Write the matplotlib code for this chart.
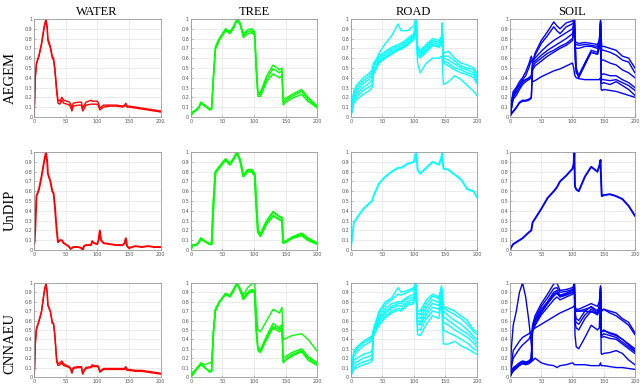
import matplotlib
matplotlib.use('Agg')
import matplotlib.pyplot as plt

materials = ['WATER', 'TREE', 'ROAD', 'SOIL']
methods = ['AEGEM', 'UnDIP', 'CNNAEU']
colors = {'WATER': '#ff0000', 'TREE': '#00ff00', 'ROAD': '#00ffff', 'SOIL': '#0000ff'}

# spectral band positions for each material
water_bands = [0, 1, 2, 4, 8, 12, 16, 19, 21, 22, 26, 29, 31, 33, 36, 38, 41, 44, 47, 52, 56, 58, 60, 62,
               70, 75, 77, 79, 82, 90, 92, 95, 100, 102, 104, 106, 110, 120, 130, 140, 143, 145, 147, 150,
               160, 170, 180, 190, 200]
tree_bands = [0, 3, 8, 13, 16, 22, 30, 33, 36, 39, 45, 55, 62, 68, 73, 78, 83, 90, 96, 101, 103, 106, 110,
              120, 130, 140, 144, 146, 150, 160, 175, 185, 200]
road_bands = [0, 2, 5, 10, 20, 30, 34, 36, 45, 55, 65, 75, 80, 90, 100, 103, 104, 106, 110, 120, 130, 140,
              144, 145, 147, 155, 165, 175, 185, 195, 200]
soil_bands = [0, 2, 5, 10, 15, 20, 25, 30, 34, 36, 40, 50, 60, 70, 75, 80, 90, 100, 102, 103, 104, 106, 110,
              120, 130, 140, 143, 145, 146, 147, 150, 160, 170, 180, 190, 200]

# AEGEM
water_aegem = [
    [0.0, 0.15, 0.4, 0.55, 0.63, 0.75, 0.92, 1.0, 0.92, 0.8, 0.72, 0.62, 0.6, 0.5, 0.28, 0.17, 0.16, 0.2, 0.17,
     0.16, 0.15, 0.13, 0.09, 0.14, 0.15, 0.15, 0.09, 0.11, 0.15, 0.17, 0.16, 0.16, 0.16, 0.14, 0.09, 0.1, 0.12,
     0.12, 0.12, 0.11, 0.12, 0.14, 0.11, 0.11, 0.1, 0.09, 0.08, 0.07, 0.06],
    [0.0, 0.12, 0.38, 0.54, 0.62, 0.74, 0.9, 0.99, 0.9, 0.78, 0.7, 0.6, 0.58, 0.48, 0.25, 0.14, 0.13, 0.17, 0.14,
     0.13, 0.12, 0.1, 0.06, 0.11, 0.12, 0.12, 0.06, 0.08, 0.12, 0.13, 0.13, 0.13, 0.13, 0.11, 0.07, 0.08, 0.1,
     0.11, 0.11, 0.1, 0.11, 0.12, 0.1, 0.1, 0.09, 0.08, 0.07, 0.06, 0.05],
]
tree_aegem = [
    [0.0, 0.05, 0.07, 0.1, 0.15, 0.12, 0.08, 0.09, 0.45, 0.72, 0.8, 0.9, 0.87, 0.93, 1.0, 0.96, 0.85, 0.89, 0.9,
     0.87, 0.6, 0.25, 0.25, 0.42, 0.53, 0.48, 0.5, 0.18, 0.19, 0.23, 0.28, 0.2, 0.11],
    [0.0, 0.05, 0.07, 0.1, 0.15, 0.12, 0.08, 0.08, 0.42, 0.7, 0.79, 0.89, 0.86, 0.92, 0.99, 0.95, 0.83, 0.87, 0.88,
     0.85, 0.55, 0.23, 0.23, 0.39, 0.49, 0.45, 0.47, 0.15, 0.17, 0.21, 0.26, 0.18, 0.1],
    [0.0, 0.04, 0.06, 0.09, 0.14, 0.11, 0.07, 0.08, 0.4, 0.69, 0.78, 0.88, 0.85, 0.91, 0.99, 0.94, 0.81, 0.85, 0.86,
     0.83, 0.5, 0.21, 0.21, 0.36, 0.44, 0.4, 0.42, 0.12, 0.15, 0.19, 0.23, 0.16, 0.09],
]
road_aegem = [
    [0.0, 0.15, 0.27, 0.33, 0.4, 0.45, 0.48, 0.52, 0.65, 0.75, 0.83, 0.95, 0.88, 0.88, 0.93, 1.0, 0.85, 0.55, 0.45,
     0.55, 0.6, 0.6, 0.62, 0.6, 0.33, 0.36, 0.42, 0.38, 0.32, 0.26, 0.22],
    [0.0, 0.12, 0.25, 0.3, 0.37, 0.42, 0.45, 0.55, 0.62, 0.67, 0.71, 0.74, 0.75, 0.8, 0.85, 0.95, 1.0, 0.72, 0.68,
     0.74, 0.8, 0.78, 0.82, 0.96, 0.65, 0.67, 0.6, 0.55, 0.53, 0.5, 0.45],
    [0.0, 0.1, 0.22, 0.27, 0.34, 0.39, 0.42, 0.52, 0.6, 0.65, 0.69, 0.72, 0.73, 0.78, 0.83, 0.93, 0.98, 0.7, 0.66,
     0.72, 0.78, 0.76, 0.8, 0.95, 0.62, 0.62, 0.57, 0.52, 0.5, 0.48, 0.42],
    [0.0, 0.08, 0.2, 0.24, 0.3, 0.35, 0.38, 0.48, 0.58, 0.63, 0.67, 0.7, 0.71, 0.76, 0.81, 0.9, 0.97, 0.67, 0.64,
     0.7, 0.76, 0.74, 0.78, 0.94, 0.6, 0.58, 0.54, 0.5, 0.48, 0.45, 0.4],
    [0.0, 0.06, 0.17, 0.21, 0.27, 0.31, 0.33, 0.45, 0.56, 0.61, 0.65, 0.69, 0.7, 0.74, 0.8, 0.88, 0.96, 0.65, 0.62,
     0.68, 0.74, 0.72, 0.76, 0.93, 0.57, 0.55, 0.5, 0.48, 0.45, 0.43, 0.37],
    [0.0, 0.05, 0.14, 0.18, 0.23, 0.27, 0.3, 0.43, 0.55, 0.6, 0.64, 0.68, 0.69, 0.73, 0.79, 0.87, 0.95, 0.63, 0.6,
     0.66, 0.73, 0.71, 0.74, 0.92, 0.55, 0.52, 0.48, 0.45, 0.43, 0.4, 0.34],
]
soil_aegem = [
    [0.0, 0.1, 0.2, 0.25, 0.3, 0.35, 0.38, 0.4, 0.42, 0.55, 0.65, 0.78, 0.87, 0.97, 0.93, 0.9, 0.96, 0.98, 0.99,
     1.0, 0.85, 0.5, 0.42, 0.55, 0.68, 0.66, 0.75, 1.0, 0.8, 0.72, 0.72, 0.7, 0.68, 0.62, 0.6, 0.5],
    [0.0, 0.08, 0.18, 0.22, 0.28, 0.33, 0.36, 0.38, 0.4, 0.53, 0.63, 0.75, 0.83, 0.92, 0.88, 0.85, 0.92, 0.95, 0.97,
     1.0, 0.8, 0.47, 0.4, 0.53, 0.66, 0.64, 0.72, 0.98, 0.75, 0.68, 0.68, 0.66, 0.63, 0.58, 0.56, 0.45],
    [0.0, 0.15, 0.26, 0.3, 0.36, 0.4, 0.46, 0.54, 0.62, 0.58, 0.6, 0.67, 0.73, 0.78, 0.8, 0.82, 0.86, 0.9, 0.95,
     1.0, 0.78, 0.76, 0.75, 0.76, 0.75, 0.74, 0.78, 0.97, 0.6, 0.58, 0.58, 0.55, 0.53, 0.48, 0.45, 0.4],
    [0.0, 0.12, 0.24, 0.28, 0.33, 0.38, 0.42, 0.5, 0.58, 0.55, 0.57, 0.63, 0.68, 0.72, 0.74, 0.76, 0.8, 0.85, 0.92,
     1.0, 0.75, 0.74, 0.73, 0.74, 0.73, 0.72, 0.76, 0.96, 0.45, 0.43, 0.44, 0.42, 0.42, 0.38, 0.35, 0.3],
    [0.0, 0.04, 0.06, 0.1, 0.15, 0.17, 0.17, 0.18, 0.2, 0.5, 0.55, 0.6, 0.65, 0.68, 0.7, 0.72, 0.75, 0.8, 0.88,
     1.0, 0.72, 0.7, 0.7, 0.72, 0.72, 0.7, 0.74, 0.95, 0.4, 0.38, 0.38, 0.37, 0.38, 0.35, 0.32, 0.27],
    [0.0, 0.03, 0.05, 0.09, 0.14, 0.16, 0.16, 0.17, 0.19, 0.48, 0.52, 0.57, 0.62, 0.66, 0.68, 0.7, 0.73, 0.78, 0.86,
     0.98, 0.6, 0.45, 0.42, 0.55, 0.66, 0.64, 0.7, 0.93, 0.35, 0.34, 0.35, 0.33, 0.36, 0.32, 0.28, 0.22],
    [0.0, 0.08, 0.2, 0.28, 0.33, 0.37, 0.38, 0.39, 0.4, 0.36, 0.37, 0.41, 0.44, 0.47, 0.48, 0.49, 0.52, 0.55, 0.5,
     0.45, 0.42, 0.4, 0.39, 0.38, 0.38, 0.38, 0.38, 0.4, 0.28, 0.27, 0.28, 0.27, 0.26, 0.24, 0.22, 0.2],
]

# UnDIP
water_undip = [
    [0.05, 0.08, 0.2, 0.55, 0.62, 0.75, 0.9, 1.0, 0.9, 0.78, 0.7, 0.6, 0.58, 0.45, 0.2, 0.08, 0.1, 0.1, 0.07,
     0.05, 0.03, 0.01, 0.02, 0.03, 0.03, 0.02, 0.0, 0.04, 0.05, 0.05, 0.09, 0.07, 0.06, 0.1, 0.2, 0.1, 0.07,
     0.06, 0.05, 0.05, 0.07, 0.12, 0.04, 0.02, 0.04, 0.03, 0.04, 0.03, 0.03],
]
tree_undip = [
    [0.0, 0.05, 0.05, 0.08, 0.12, 0.09, 0.06, 0.06, 0.5, 0.8, 0.85, 0.93, 0.88, 0.94, 1.0, 0.92, 0.76, 0.82, 0.82,
     0.78, 0.55, 0.2, 0.16, 0.3, 0.39, 0.34, 0.33, 0.08, 0.09, 0.13, 0.17, 0.12, 0.07],
    [0.0, 0.05, 0.05, 0.08, 0.12, 0.09, 0.06, 0.06, 0.48, 0.79, 0.84, 0.92, 0.87, 0.93, 0.99, 0.91, 0.75, 0.8, 0.8,
     0.76, 0.5, 0.18, 0.14, 0.27, 0.35, 0.31, 0.3, 0.07, 0.08, 0.12, 0.15, 0.1, 0.06],
]
road_undip = [
    [0.0, 0.12, 0.28, 0.33, 0.42, 0.48, 0.5, 0.55, 0.68, 0.75, 0.8, 0.84, 0.84, 0.88, 0.9, 0.98, 1.0, 0.82, 0.78,
     0.84, 0.9, 0.87, 0.95, 1.0, 0.83, 0.82, 0.77, 0.72, 0.62, 0.6, 0.54],
]
soil_undip = [
    [0.0, 0.03, 0.06, 0.08, 0.1, 0.12, 0.15, 0.18, 0.2, 0.28, 0.32, 0.42, 0.53, 0.6, 0.64, 0.7, 0.76, 0.83, 0.88,
     1.0, 0.65, 0.62, 0.6, 0.75, 0.85, 0.8, 0.86, 0.92, 0.68, 0.55, 0.56, 0.57, 0.55, 0.52, 0.45, 0.35],
]

# CNNAEU
water_cnnaeu = [
    [0.0, 0.1, 0.35, 0.52, 0.6, 0.7, 0.9, 1.0, 0.9, 0.77, 0.7, 0.58, 0.57, 0.45, 0.18, 0.14, 0.15, 0.17, 0.14,
     0.12, 0.11, 0.09, 0.05, 0.1, 0.11, 0.11, 0.04, 0.07, 0.1, 0.11, 0.13, 0.12, 0.12, 0.11, 0.06, 0.07, 0.09,
     0.09, 0.09, 0.09, 0.09, 0.11, 0.08, 0.08, 0.07, 0.07, 0.06, 0.05, 0.04],
    [0.0, 0.08, 0.33, 0.5, 0.59, 0.69, 0.89, 0.99, 0.89, 0.76, 0.69, 0.57, 0.56, 0.44, 0.16, 0.12, 0.13, 0.15, 0.12,
     0.11, 0.1, 0.08, 0.04, 0.09, 0.1, 0.1, 0.03, 0.06, 0.09, 0.1, 0.11, 0.11, 0.11, 0.1, 0.05, 0.06, 0.08,
     0.08, 0.08, 0.08, 0.08, 0.1, 0.07, 0.07, 0.06, 0.06, 0.05, 0.04, 0.03],
]
tree_cnnaeu = [
    [0.0, 0.05, 0.08, 0.12, 0.15, 0.13, 0.15, 0.16, 0.5, 0.72, 0.8, 0.88, 0.87, 0.94, 1.0, 0.94, 0.87, 0.95, 0.99,
     1.0, 0.75, 0.5, 0.48, 0.6, 0.72, 0.68, 0.74, 0.4, 0.41, 0.44, 0.46, 0.4, 0.27],
    [0.0, 0.03, 0.08, 0.12, 0.14, 0.1, 0.06, 0.07, 0.5, 0.72, 0.8, 0.89, 0.86, 0.93, 1.0, 0.93, 0.84, 0.9, 0.93,
     0.92, 0.6, 0.32, 0.29, 0.44, 0.57, 0.52, 0.56, 0.2, 0.22, 0.26, 0.3, 0.22, 0.15],
    [0.0, 0.02, 0.07, 0.11, 0.13, 0.1, 0.06, 0.06, 0.49, 0.71, 0.79, 0.88, 0.86, 0.92, 0.99, 0.92, 0.83, 0.89, 0.92,
     0.9, 0.55, 0.3, 0.27, 0.42, 0.54, 0.5, 0.53, 0.16, 0.19, 0.24, 0.28, 0.2, 0.13],
    [0.0, 0.02, 0.07, 0.11, 0.13, 0.1, 0.05, 0.06, 0.48, 0.7, 0.79, 0.88, 0.85, 0.92, 0.99, 0.92, 0.82, 0.88, 0.91,
     0.89, 0.5, 0.28, 0.26, 0.4, 0.52, 0.48, 0.5, 0.15, 0.18, 0.22, 0.27, 0.18, 0.12],
]
road_cnnaeu = [
    [0.0, 0.15, 0.28, 0.32, 0.38, 0.42, 0.44, 0.5, 0.7, 0.8, 0.84, 0.95, 0.9, 0.92, 0.95, 1.0, 0.85, 0.7, 0.7,
     0.82, 0.88, 0.85, 0.97, 0.9, 0.75, 0.73, 0.7, 0.65, 0.6, 0.5, 0.48],
    [0.0, 0.13, 0.26, 0.3, 0.36, 0.4, 0.43, 0.5, 0.68, 0.77, 0.82, 0.88, 0.87, 0.9, 0.93, 1.0, 0.95, 0.68, 0.66,
     0.78, 0.86, 0.83, 0.95, 0.9, 0.73, 0.7, 0.66, 0.62, 0.56, 0.48, 0.45],
    [0.0, 0.1, 0.22, 0.27, 0.33, 0.37, 0.4, 0.48, 0.65, 0.73, 0.78, 0.8, 0.8, 0.85, 0.88, 0.98, 0.93, 0.63, 0.62,
     0.74, 0.82, 0.79, 0.93, 0.85, 0.7, 0.65, 0.6, 0.56, 0.5, 0.43, 0.4],
    [0.0, 0.08, 0.18, 0.2, 0.24, 0.26, 0.28, 0.46, 0.62, 0.7, 0.75, 0.78, 0.78, 0.83, 0.85, 0.97, 0.9, 0.6, 0.58,
     0.7, 0.78, 0.76, 0.9, 0.8, 0.64, 0.6, 0.55, 0.5, 0.46, 0.4, 0.36],
    [0.0, 0.06, 0.14, 0.16, 0.2, 0.22, 0.24, 0.45, 0.6, 0.68, 0.73, 0.76, 0.75, 0.8, 0.83, 0.96, 0.88, 0.57, 0.55,
     0.66, 0.74, 0.72, 0.87, 0.75, 0.58, 0.55, 0.5, 0.46, 0.42, 0.36, 0.32],
    [0.0, 0.05, 0.1, 0.13, 0.16, 0.18, 0.2, 0.44, 0.57, 0.65, 0.7, 0.73, 0.72, 0.78, 0.8, 0.95, 0.85, 0.5, 0.5,
     0.62, 0.7, 0.68, 0.85, 0.7, 0.5, 0.47, 0.44, 0.4, 0.36, 0.3, 0.28],
    [0.0, 0.04, 0.08, 0.1, 0.13, 0.15, 0.17, 0.43, 0.55, 0.63, 0.68, 0.71, 0.7, 0.76, 0.78, 0.94, 0.82, 0.45, 0.44,
     0.56, 0.65, 0.62, 0.82, 0.65, 0.35, 0.35, 0.38, 0.33, 0.3, 0.26, 0.24],
]
soil_cnnaeu = [
    [0.0, 0.05, 0.1, 0.12, 0.15, 0.17, 0.16, 0.17, 0.2, 0.55, 0.65, 0.78, 0.88, 0.99, 1.0, 0.92, 0.93, 0.95, 0.97,
     1.0, 0.75, 0.72, 0.72, 0.75, 0.78, 0.75, 0.8, 0.97, 0.72, 0.7, 0.72, 0.68, 0.65, 0.6, 0.55, 0.45],
    [0.0, 0.04, 0.08, 0.11, 0.14, 0.16, 0.15, 0.16, 0.18, 0.53, 0.62, 0.75, 0.84, 0.94, 0.95, 0.9, 0.91, 0.93, 0.95,
     1.0, 0.7, 0.62, 0.6, 0.7, 0.75, 0.7, 0.75, 0.95, 0.5, 0.48, 0.49, 0.47, 0.45, 0.4, 0.35, 0.3],
    [0.0, 0.03, 0.07, 0.1, 0.13, 0.15, 0.14, 0.15, 0.17, 0.52, 0.6, 0.72, 0.8, 0.9, 0.92, 0.87, 0.89, 0.92, 0.94,
     1.0, 0.62, 0.58, 0.56, 0.66, 0.72, 0.68, 0.72, 0.94, 0.46, 0.44, 0.46, 0.44, 0.42, 0.37, 0.32, 0.27],
    [0.0, 0.03, 0.06, 0.09, 0.12, 0.14, 0.13, 0.14, 0.16, 0.5, 0.58, 0.7, 0.78, 0.86, 0.89, 0.85, 0.87, 0.9, 0.93,
     0.99, 0.58, 0.52, 0.5, 0.62, 0.7, 0.66, 0.7, 0.93, 0.43, 0.42, 0.43, 0.41, 0.4, 0.35, 0.3, 0.25],
    [0.0, 0.05, 0.09, 0.12, 0.15, 0.16, 0.15, 0.16, 0.18, 0.48, 0.55, 0.66, 0.74, 0.82, 0.85, 0.82, 0.85, 0.88, 0.9,
     0.98, 0.45, 0.32, 0.3, 0.42, 0.55, 0.5, 0.52, 0.9, 0.25, 0.24, 0.25, 0.26, 0.28, 0.25, 0.18, 0.13],
    [0.0, 0.12, 0.28, 0.33, 0.38, 0.42, 0.44, 0.46, 0.48, 0.5, 0.52, 0.56, 0.6, 0.64, 0.66, 0.68, 0.71, 0.74, 0.75,
     0.76, 0.72, 0.7, 0.7, 0.7, 0.69, 0.68, 0.7, 0.72, 0.72, 0.71, 0.72, 0.7, 0.68, 0.62, 0.58, 0.47],
    [0.0, 0.1, 0.2, 0.25, 0.3, 0.34, 0.37, 0.4, 0.45, 0.5, 0.55, 0.68, 0.78, 0.88, 0.9, 0.86, 0.88, 0.9, 0.93,
     1.0, 0.68, 0.7, 0.7, 0.72, 0.74, 0.7, 0.74, 0.96, 0.5, 0.48, 0.5, 0.46, 0.44, 0.4, 0.34, 0.28],
    [0.0, 0.3, 0.55, 0.7, 0.9, 1.0, 0.85, 0.6, 0.35, 0.17, 0.2, 0.15, 0.13, 0.12, 0.1, 0.12, 0.13, 0.15, 0.14,
     0.13, 0.13, 0.13, 0.13, 0.13, 0.12, 0.12, 0.12, 0.15, 0.12, 0.12, 0.12, 0.11, 0.1, 0.1, 0.09, 0.08],
]

bands = {'WATER': water_bands, 'TREE': tree_bands, 'ROAD': road_bands, 'SOIL': soil_bands}
curves = {
    'AEGEM': {'WATER': water_aegem, 'TREE': tree_aegem, 'ROAD': road_aegem, 'SOIL': soil_aegem},
    'UnDIP': {'WATER': water_undip, 'TREE': tree_undip, 'ROAD': road_undip, 'SOIL': soil_undip},
    'CNNAEU': {'WATER': water_cnnaeu, 'TREE': tree_cnnaeu, 'ROAD': road_cnnaeu, 'SOIL': soil_cnnaeu},
}

fig = plt.figure(figsize=(6.4, 3.87), dpi=100)

col_left = [0.053, 0.298, 0.548, 0.797]
col_width = [0.198, 0.198, 0.197, 0.195]
row_bottom = [0.698, 0.354, 0.026]
row_height = [0.253, 0.253, 0.243]
label_y = [0.798, 0.457, 0.112]

for i, method in enumerate(methods):
    for j, mat in enumerate(materials):
        ax = fig.add_axes([col_left[j], row_bottom[i], col_width[j], row_height[i]])
        lw = 1.4 if method == 'UnDIP' else 1.0
        for c in curves[method][mat]:
            ax.plot(bands[mat], c, color=colors[mat], lw=lw)
        ax.set_xlim(0, 200)
        ax.set_ylim(0, 1)
        ax.set_xticks([0, 50, 100, 150, 200])
        ax.set_yticks([0, 0.1, 0.2, 0.3, 0.4, 0.5, 0.6, 0.7, 0.8, 0.9, 1])
        ax.set_yticklabels(['0', '0.1', '0.2', '0.3', '0.4', '0.5', '0.6', '0.7', '0.8', '0.9', '1'])
        ax.tick_params(labelsize=3.5, labelcolor='#555555', length=1.5, width=0.4,
                       direction='in', color='#888888', pad=1.2)
        ax.grid(True, color='#e4e4e4', lw=0.5)
        ax.set_axisbelow(True)
        for s in ax.spines.values():
            s.set_color('#999999')
            s.set_linewidth(0.6)
        if i == 0:
            fig.text(col_left[j] + col_width[j] / 2, 0.969, mat, ha='center', va='center',
                     family='Liberation Serif', fontsize=9)
    fig.text(0.016, label_y[i], method, rotation=90, ha='center', va='center',
             family='Liberation Serif', fontsize=10.5)

fig.savefig('out.png', dpi=100)
